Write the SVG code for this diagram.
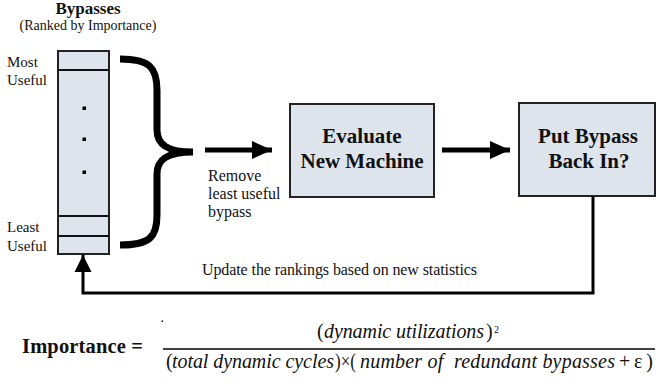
<svg xmlns="http://www.w3.org/2000/svg" width="657" height="381" viewBox="0 0 657 381">
<style>
text{font-family:"Liberation Serif","Times New Roman",serif;fill:#111}
.b{font-weight:bold}
.i{font-style:italic}
.box{fill:#dde4ec;stroke:#222;stroke-width:2}
.thin{fill:none;stroke:#111;stroke-width:2}
.thick{fill:none;stroke:#000;stroke-width:5}
</style>
<defs>
<marker id="ah" viewBox="0 0 10 10" refX="10" refY="5" markerWidth="4" markerHeight="3.6" markerUnits="strokeWidth" orient="auto" preserveAspectRatio="none">
<path d="M0,0 L10,5 L0,10 Z" fill="#000"/>
</marker>
<marker id="ah2" viewBox="0 0 10 10" refX="10" refY="5" markerWidth="5.7" markerHeight="5.7" markerUnits="strokeWidth" orient="auto" preserveAspectRatio="none">
<path d="M0,0 L10,5 L0,10 Z" fill="#000"/>
</marker>
</defs>

<g id="bypass-list">
<text class="b" x="88" y="14" font-size="17" text-anchor="middle">Bypasses</text>
<text x="88" y="30" font-size="14" text-anchor="middle">(Ranked by Importance)</text>
<rect class="box" x="58" y="51" width="51" height="203"/>
<line class="thin" x1="58" y1="70" x2="109" y2="70"/>
<line class="thin" x1="58" y1="216" x2="109" y2="216"/>
<line class="thin" x1="58" y1="236" x2="109" y2="236"/>
<rect x="82.5" y="106.5" width="3.5" height="3.5" fill="#000"/>
<rect x="82.5" y="137.5" width="3.5" height="3.5" fill="#000"/>
<rect x="82.5" y="170.5" width="3.5" height="3.5" fill="#000"/>
<text x="7" y="67" font-size="15">Most</text>
<text x="7" y="85" font-size="15">Useful</text>
<text x="7" y="232" font-size="15">Least</text>
<text x="7" y="251" font-size="15">Useful</text>
</g>

<g id="brace">
<path d="M120,59 C150,59 157,68 157,90 L157,130 C157,145 168,152 193,152 C168,152 157,159 157,174 L157,215 C157,237 150,245 120,245" fill="none" stroke="#000" stroke-width="7"/>
</g>

<g id="evaluate">
<rect class="box" x="290" y="104" width="144" height="93"/>
<text class="b" x="362" y="143" font-size="21" text-anchor="middle">Evaluate</text>
<text class="b" x="362" y="168" font-size="21" text-anchor="middle">New Machine</text>
</g>

<g id="put-back">
<rect class="box" x="519" y="103" width="136" height="93"/>
<text class="b" x="588" y="143" font-size="21" text-anchor="middle">Put Bypass</text>
<text class="b" x="589" y="168" font-size="21" text-anchor="middle">Back In?</text>
</g>

<g id="connectors">
<line class="thick" x1="205" y1="150" x2="272" y2="150" marker-end="url(#ah)"/>
<line class="thick" x1="442" y1="150" x2="510" y2="150" marker-end="url(#ah)"/>
<polyline points="593,196 593,293 83,293 83,255" fill="none" stroke="#000" stroke-width="3" marker-end="url(#ah2)"/>
<text x="208" y="181" font-size="16">Remove</text>
<text x="208" y="199" font-size="16">least useful</text>
<text x="208" y="217" font-size="16">bypass</text>
<text x="202" y="275" font-size="16" textLength="275" lengthAdjust="spacing">Update the rankings based on new statistics</text>
</g>

<g id="formula">
<text class="b" x="22" y="353" font-size="20.5" textLength="121" lengthAdjust="spacing">Importance =</text>
<rect x="161.5" y="320.5" width="1.5" height="1.5" fill="#000"/>
<text x="317" y="338" font-size="20">(</text>
<text class="i" x="324" y="338" font-size="20" textLength="160" lengthAdjust="spacing">dynamic utilizations</text>
<text x="486" y="338" font-size="20">)</text>
<text x="494" y="333" font-size="10">2</text>
<line x1="163" y1="349" x2="655" y2="349" stroke="#000" stroke-width="1.5"/>
<text x="166" y="368" font-size="20">(</text>
<text class="i" x="172" y="368" font-size="20" textLength="162" lengthAdjust="spacing">total dynamic cycles</text>
<text x="335" y="368" font-size="20" textLength="21" lengthAdjust="spacingAndGlyphs">)×(</text>
<text class="i" x="360" y="368" font-size="20" textLength="255" lengthAdjust="spacing" xml:space="preserve">number of  redundant bypasses</text>
<text x="619" y="368" font-size="20" textLength="34" lengthAdjust="spacing">+ε)</text>
</g>
</svg>
